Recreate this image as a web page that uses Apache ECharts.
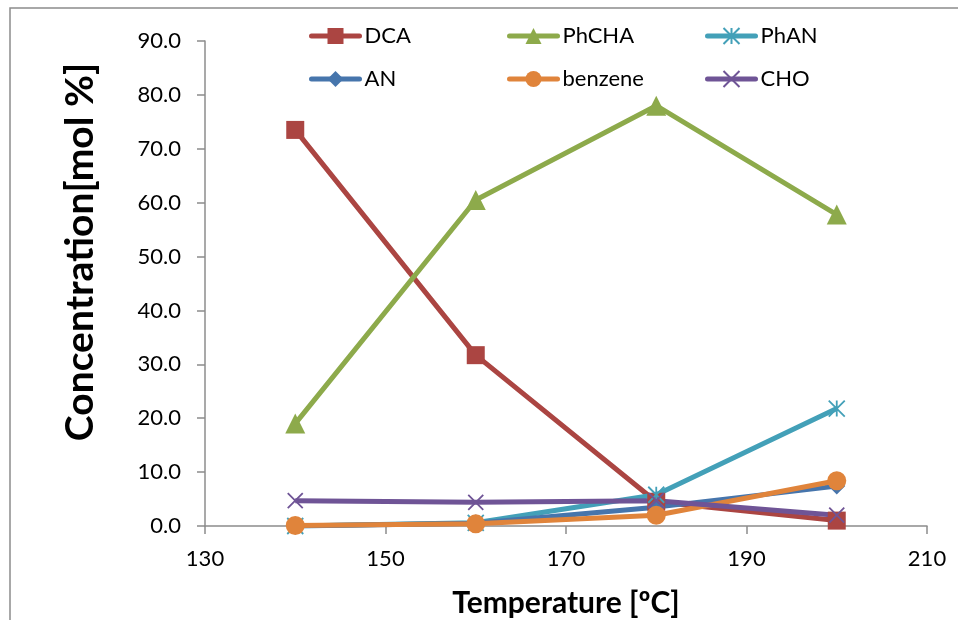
<!DOCTYPE html>
<html><head><meta charset="utf-8">
<script src="https://cdn.jsdelivr.net/npm/echarts@6/dist/echarts.min.js"></script>
<style>html,body{margin:0;padding:0;background:#fff}#c{width:958px;height:620px}</style>
</head><body><div id="c"></div>
<script>
const temperatures = [140, 160, 180, 200];
const DCA = [73.5, 31.7, 4.5, 1.0];
const PhCHA = [19.0, 60.5, 78.0, 57.8];
const PhAN = [0.0, 0.6, 5.8, 21.8];
const AN = [0.0, 0.5, 3.5, 7.4];
const benzene = [0.1, 0.4, 2.0, 8.4];
const CHO = [4.7, 4.4, 4.7, 2.0];
const xTicks = [130, 150, 170, 190, 210];
const yTicks = [0, 10, 20, 30, 40, 50, 60, 70, 80, 90];

const FONT = 'Lato, "Open Sans", sans-serif';
const starPath = 'path://M5,0L5,10M0,0L10,10M10,0L0,10';
const xPath = 'path://M0,0L10,10M10,0L0,10';

const seriesDefs = [
  {name:'DCA', data:DCA, color:'#AB4542', symbol:'rect', size:18, stroke:false},
  {name:'PhCHA', data:PhCHA, color:'#8DAA4B', symbol:'triangle', size:20, stroke:false},
  {name:'PhAN', data:PhAN, color:'#43A0B8', symbol:starPath, size:16, stroke:true},
  {name:'AN', data:AN, color:'#4675AC', symbol:'diamond', size:17, stroke:false},
  {name:'benzene', data:benzene, color:'#E0843B', symbol:'circle', size:19, stroke:false},
  {name:'CHO', data:CHO, color:'#6F5496', symbol:xPath, size:15, stroke:true}
];

const legendPos = [[304,20],[502,20],[700,20],[304,63],[502,63],[700,63]];

const chart = echarts.init(document.getElementById('c'));
chart.setOption({
  animation:false,
  backgroundColor:'#fff',
  grid:{left:205, right:31, top:41, bottom:94, containLabel:false},
  legend: seriesDefs.map((s,i)=>({
    data:[s.name], left:legendPos[i][0], top:legendPos[i][1],
    itemWidth:48, itemHeight:20, itemGap:5,
    lineStyle:{width:5, cap:'round'},
    textStyle:{fontFamily:FONT, fontSize:22, color:'#000'}
  })),
  xAxis:{
    type:'value', min:xTicks[0], max:xTicks[xTicks.length-1], interval:20,
    axisLine:{show:true, lineStyle:{color:'#8c8c8c', width:1.5}},
    axisTick:{show:true, inside:false, length:8, lineStyle:{color:'#8c8c8c', width:1.5}},
    axisLabel:{fontFamily:FONT, fontSize:22, color:'#000', margin:22},
    splitLine:{show:false}
  },
  yAxis:{
    type:'value', min:yTicks[0], max:yTicks[yTicks.length-1], interval:10,
    axisLine:{show:true, lineStyle:{color:'#8c8c8c', width:1.5}},
    axisTick:{show:true, inside:false, length:8, lineStyle:{color:'#8c8c8c', width:1.5}},
    axisLabel:{fontFamily:FONT, fontSize:22, color:'#000', margin:24, formatter:v=>v.toFixed(1)},
    splitLine:{show:false}
  },
  graphic:[
    {type:'rect', shape:{x:10, y:8, width:960, height:640}, style:{fill:'none', stroke:'#8c8c8c', lineWidth:1.5}, silent:true, z:-10},
    {type:'text', x:80, y:252, rotation:Math.PI/2, style:{text:'Concentration[mol %]', fontFamily:FONT, fontSize:39, fontWeight:'bold', fill:'#000', align:'center', verticalAlign:'middle'}},
    {type:'text', x:566, y:603, style:{text:'Temperature [ºC]', fontFamily:FONT, fontSize:30, fontWeight:'bold', fill:'#000', align:'center', verticalAlign:'middle'}}
  ],
  series: seriesDefs.map(s=>({
    name:s.name, type:'line',
    data:temperatures.map((t,i)=>[t, s.data[i]]),
    symbol:s.symbol, symbolSize:s.size, showSymbol:true,
    lineStyle:{color:s.color, width:5},
    itemStyle: s.stroke ? {color:s.color, borderColor:s.color, borderWidth:1.8} : {color:s.color, borderColor:s.color, borderWidth:0},
    emphasis:{disabled:true}
  }))
});
</script></body></html>
